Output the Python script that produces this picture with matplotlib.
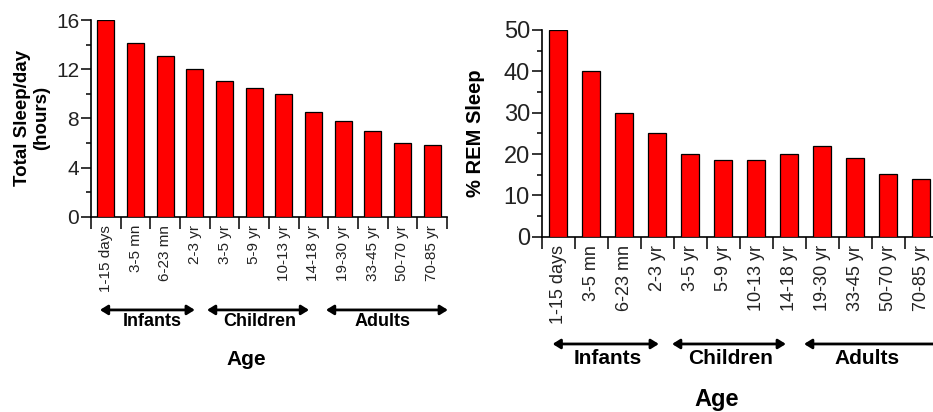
import matplotlib
matplotlib.use("Agg")
import matplotlib.pyplot as plt
import numpy as np

plt.rcParams['font.family'] = ['Liberation Sans', 'DejaVu Sans']

ages = ["1-15 days", "3-5 mn", "6-23 mn", "2-3 yr", "3-5 yr", "5-9 yr",
        "10-13 yr", "14-18 yr", "19-30 yr", "33-45 yr", "50-70 yr", "70-85 yr"]
total_sleep = [16.0, 14.1, 13.05, 12.05, 11.0, 10.5, 9.95, 8.5, 7.75, 7.0, 6.0, 5.8]
rem_pct = [50.0, 40.2, 30.0, 25.2, 20.1, 18.6, 18.6, 20.1, 21.9, 19.0, 15.1, 13.9]
groups = ["Infants", "Children", "Adults"]
left_group_spans = [(-0.2, 3.0), (3.41, 6.85), (7.42, 11.53)]
right_group_spans = [(-0.17, 3.05), (3.45, 6.9), (7.45, 12.6)]
left_group_centers = [1.55, 5.2, 9.33]
right_group_centers = [1.51, 5.23, 9.36]

W, H = 933, 412
fig = plt.figure(figsize=(W / 100, H / 100), dpi=100)


def px_axes(x0, y_top, width, y_bottom):
    return fig.add_axes([x0 / W, 1 - y_bottom / H, width / W, (y_bottom - y_top) / H])


def style(ax, values, ymax, major, minor, ylabel, ytick_fs, xtick_fs, ylab_fs,
          spans, arrow_y, bar_w):
    n = len(values)
    x = np.arange(n)
    ax.bar(x, values, width=bar_w, color="#ff0000", edgecolor="black", linewidth=0.9, zorder=3)
    ax.set_xlim(-0.5, n - 0.5)
    ax.set_ylim(0, ymax)
    for s in ["top", "right"]:
        ax.spines[s].set_visible(False)
    for s in ["left", "bottom"]:
        ax.spines[s].set_linewidth(1.2)
    ax.set_yticks(np.arange(0, ymax + 0.01, major))
    ax.set_yticks(np.arange(minor, ymax, major), minor=True)
    ax.tick_params(axis="y", which="major", direction="out", length=7.5, width=1.1,
                   labelsize=ytick_fs, pad=1, colors="black", labelcolor="#222222")
    ax.tick_params(axis="y", which="minor", direction="out", length=3.8, width=1.1)
    ax.set_xticks(np.arange(-0.5, n, 1.0))
    ax.set_xticklabels([])
    ax.set_xticks(x, minor=True)
    ax.set_xticklabels(ages, minor=True, rotation=90, fontsize=xtick_fs, color="#222222")
    ax.tick_params(axis="x", which="major", direction="out", length=8.5, width=1.1)
    ax.tick_params(axis="x", which="minor", length=0, pad=6)
    ax.set_ylabel(ylabel, fontsize=ylab_fs, fontweight="bold", linespacing=1.15)
    tr = ax.get_xaxis_transform()
    for a, b in spans:
        ax.annotate("", xy=(a, arrow_y), xytext=(b, arrow_y), xycoords=tr, textcoords=tr,
                    arrowprops=dict(arrowstyle="<|-|>,head_length=0.45,head_width=0.28",
                                    color="black", lw=2.0, shrinkA=0, shrinkB=0),
                    annotation_clip=False)
    return tr


# Left chart
axL = px_axes(91, 20, 356, 216.7)
trL = style(axL, total_sleep, 16, 4, 2, "Total Sleep/day\n(hours)", 15, 11, 13.5,
            left_group_spans, -0.474, 0.58)
axL.yaxis.set_label_coords(-0.115, 0.5)
for g, cx in zip(groups, left_group_centers):
    axL.text(cx, -0.535, g, transform=trL, ha="center", va="center", fontsize=13, fontweight="bold")
axL.text(4.75, -0.728, "Age", transform=trL, ha="center", va="center", fontsize=15, fontweight="bold")

# Right chart
axR = px_axes(541.7, 30, 396, 236.7)
trR = style(axR, rem_pct, 50, 10, 5, "% REM Sleep", 17, 13, 14.5,
            right_group_spans, -0.519, 0.56)
axR.yaxis.set_label_coords(-0.142, 0.5)
for g, cx in zip(groups, right_group_centers):
    axR.text(cx, -0.587, g, transform=trR, ha="center", va="center", fontsize=15, fontweight="bold")
axR.text(4.8, -0.79, "Age", transform=trR, ha="center", va="center", fontsize=17, fontweight="bold")

fig.savefig("out.png", dpi=100)
